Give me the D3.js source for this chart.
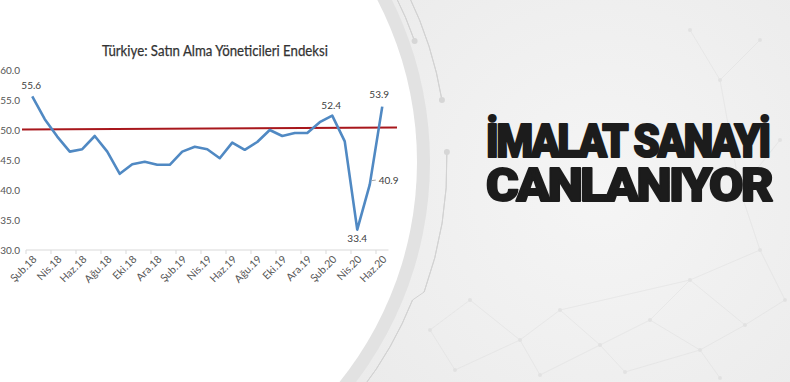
<!DOCTYPE html>
<html>
<head>
<meta charset="utf-8">
<script src="https://cdn.jsdelivr.net/npm/d3@7"></script>
<style>
  html, body { margin: 0; padding: 0; background: #fff; }
  svg { display: block; }
</style>
</head>
<body>
<div id="chart"></div>
<script>
var width = 790
var height = 382

// data
const months = ["Şub.18","Mar.18","Nis.18","May.18","Haz.18","Tem.18","Ağu.18","Eyl.18","Eki.18","Kas.18","Ara.18",
    "Oca.19","Şub.19","Mar.19","Nis.19","May.19","Haz.19","Tem.19","Ağu.19","Eyl.19","Eki.19","Kas.19","Ara.19",
    "Oca.20","Şub.20","Mar.20","Nis.20","May.20","Haz.20"];
const pmi = [55.6,51.8,48.9,46.4,46.8,49.0,46.4,42.7,44.3,44.7,44.2,
    44.2,46.4,47.2,46.8,45.3,47.9,46.7,48.0,50.0,49.0,49.5,49.5,
    51.3,52.4,48.1,33.4,40.9,53.9];
const threshold = 50;
const yTicks = [30, 35, 40, 45, 50, 55, 60];
const labelled = ["Şub.18", "Şub.20", "Nis.20", "May.20", "Haz.20"];
const title = "Türkiye: Satın Alma Yöneticileri Endeksi";
const headline = ["İMALAT SANAYİ", "CANLANIYOR"];

var svg = d3.select("#chart")
    .append("svg")
    .attr("width", width)
    .attr("height", height)

var defs = svg.append("defs")
var grad = defs.append("radialGradient")
    .attr("id", "bg")
    .attr("gradientUnits", "userSpaceOnUse")
    .attr("cx", 600).attr("cy", 190).attr("r", 430)
grad.append("stop").attr("offset", "0%").attr("stop-color", "#f5f5f5")
grad.append("stop").attr("offset", "100%").attr("stop-color", "#e7e7e7")

svg.append("rect")
    .attr("width", width).attr("height", height)
    .attr("fill", "url(#bg)")

// faint network decoration on the grey side
var net = svg.append("g")
    .attr("stroke", "#dadada")
    .attr("stroke-width", 0.7)
    .attr("fill", "#d8d8d8")
    .attr("opacity", 0.55)
var nodes = [[430,330],[470,300],[520,340],[560,310],[600,345],[650,320],[700,350],[745,325],[785,300],
    [455,370],[540,375],[625,372],[720,378],[690,280],[760,250],[740,190],[780,140],[720,80],[760,40],[690,30]]
var links = [[0,1],[1,2],[2,3],[3,4],[4,5],[5,6],[6,7],[7,8],[0,9],[9,2],[2,10],[10,4],[4,11],[11,6],[6,12],
    [5,13],[13,7],[13,14],[14,8],[14,15],[15,16],[15,17],[17,18],[17,19],[3,13]]
net.selectAll("line")
    .data(links)
    .enter()
    .append("line")
        .attr("x1", d => nodes[d[0]][0]).attr("y1", d => nodes[d[0]][1])
        .attr("x2", d => nodes[d[1]][0]).attr("y2", d => nodes[d[1]][1])
net.selectAll("circle")
    .data(nodes)
    .enter()
    .append("circle")
        .attr("cx", d => d[0]).attr("cy", d => d[1])
        .attr("r", 2)
        .attr("stroke", "none")

// white disc with grey ring
var cx = 66, cy = 162, R = 351
var ring = svg.append("g").attr("transform", "translate(" + cx + "," + cy + ")")

// angle (d3.arc convention) where a circle of radius r crosses the line y
const angleAtY = (r, yy) => {
    var dy = yy - cy
    var dx = Math.sqrt(Math.max(0, r * r - dy * dy))
    return Math.atan2(dx, -dy)
}

ring.append("circle")
    .attr("r", R + 13)
    .attr("fill", "#e2e2e2")
ring.append("circle")
    .attr("r", R)
    .attr("fill", "#ffffff")

var thin = [
    { r: 369, y0: -5, y1: 41, dot: "end" },
    { r: 381, y0: -5, y1: 100, dot: "end" },
    { r: 381, y0: 152, y1: 292, dot: "start" },
    { r: 373, y0: 300, y1: 390, dot: "none" }
]
thin.forEach(t => {
    var a0 = angleAtY(t.r, t.y0), a1 = angleAtY(t.r, t.y1)
    ring.append("path")
        .attr("d", d3.arc().innerRadius(t.r).outerRadius(t.r).startAngle(Math.min(a0, a1)).endAngle(Math.max(a0, a1))())
        .attr("fill", "none")
        .attr("stroke", "#d2d2d2")
        .attr("stroke-width", 1)
    if (t.dot != "none") {
        var a = t.dot == "end" ? a1 : a0
        ring.append("circle")
            .attr("cx", t.r * Math.sin(a))
            .attr("cy", -t.r * Math.cos(a))
            .attr("r", 3)
            .attr("fill", "#d6d6d6")
    }
})
// small bracket joining the lower arcs
var b0 = angleAtY(381, 292), b1 = angleAtY(373, 300)
ring.append("path")
    .attr("d", "M" + (381 * Math.sin(b0)) + "," + (-381 * Math.cos(b0)) + "L" + (373 * Math.sin(b1)) + "," + (-373 * Math.cos(b1)))
    .attr("stroke", "#d2d2d2")
    .attr("fill", "none")

// chart
var x = d3.scaleBand()
    .domain(months)
    .range([26, 388.5])
var y = d3.scaleLinear()
    .domain([30, 60])
    .range([250, 70])

var chart = svg.append("g")
    .style("font-family", "Lato, 'Open Sans', sans-serif")

chart.append("text")
    .attr("x", 215)
    .attr("y", 56)
    .attr("text-anchor", "middle")
    .style("font-size", "14.5px")
    .style("fill", "#333333")
    .style("stroke", "#333333")
    .style("stroke-width", 0.25)
    .text(title)
    .each(function() {
        // squeeze to the narrow width of the original font
        var w = this.getComputedTextLength()
        if (w > 226) d3.select(this).attr("textLength", 226).attr("lengthAdjust", "spacingAndGlyphs")
    })

// y axis labels
var yAxis = chart.append("g")
    .attr("transform", "translate(20,0)")
    .call(d3.axisLeft(y).tickValues(yTicks).tickFormat(d3.format(".1f")).tickSize(0).tickPadding(0))
yAxis.select(".domain").remove()
yAxis.selectAll("text")
    .style("font-family", "Lato, sans-serif")
    .style("font-size", "10px")
    .style("fill", "#555555")

// x axis line, ticks at category boundaries every two months
var xg = chart.append("g")
xg.append("line")
    .attr("x1", x.range()[0]).attr("x2", x.range()[1])
    .attr("y1", y(30)).attr("y2", y(30))
    .attr("stroke", "#d9d9d9")
var every2 = months.filter((m, i) => i % 2 == 0)
xg.selectAll(".tick")
    .data(every2)
    .enter()
    .append("line")
        .attr("x1", d => x(d)).attr("x2", d => x(d))
        .attr("y1", y(30)).attr("y2", y(30) + 4)
        .attr("stroke", "#d9d9d9")
xg.selectAll(".xlab")
    .data(every2)
    .enter()
    .append("text")
        .attr("transform", d => "translate(" + (x(d) + x.bandwidth() / 2 + 5) + "," + (y(30) + 10) + ") rotate(-45)")
        .attr("text-anchor", "end")
        .style("font-size", "10.5px")
        .style("fill", "#555555")
        .text(d => d)

// threshold line
chart.append("line")
    .attr("x1", 22).attr("x2", 397)
    .attr("y1", y(threshold) - 0.5).attr("y2", y(threshold) - 2.5)
    .attr("stroke", "#a8171c")
    .attr("stroke-width", 2)

// PMI line
var cxp = (d, i) => x(months[i]) + x.bandwidth() / 2
chart.append("path")
    .datum(pmi)
    .attr("d", d3.line().x(cxp).y(d => y(d)))
    .attr("fill", "none")
    .attr("stroke", "#5089c3")
    .attr("stroke-width", 2.6)
    .attr("stroke-linejoin", "round")

// data labels
labelled.forEach(m => {
    var i = months.indexOf(m)
    var v = pmi[i]
    var px = cxp(v, i), py = y(v)
    var prev = i > 0 ? pmi[i - 1] : v, next = i < pmi.length - 1 ? pmi[i + 1] : -Infinity
    var lx = px, ly = py - 7, anchor = "middle"
    if (v < prev && v < next) { ly = py + 12 }                       // trough
    else if (v > prev && v < next) { lx = px + 9; ly = py - 1; anchor = "start"   // rising mid-point
        chart.append("line")
            .attr("x1", px + 2).attr("x2", px + 6)
            .attr("y1", py - 4).attr("y2", py - 4.5)
            .attr("stroke", "#a6a6a6")
    }
    else if (i == pmi.length - 1) { lx = px - 3; ly = py - 9 }
    else { lx = px - 1 }
    chart.append("text")
        .attr("x", lx).attr("y", ly)
        .attr("text-anchor", anchor)
        .style("font-size", "10px")
        .style("fill", "#404040")
        .text(v.toFixed(1))
})

// headline: tight, heavy lettering fitted to its width, then stretched to the cap height
var head = svg.append("g")
    .style("font-family", "Roboto, 'Open Sans', sans-serif")
    .style("font-weight", 900)
    .style("fill", "#1c1c1c")
    .style("stroke", "#1c1c1c")
    .style("stroke-width", 2)
    .style("stroke-linejoin", "round")
var targetW = [283, 285]
head.selectAll("text")
    .data(headline)
    .enter()
    .append("text")
        .attr("x", 0)
        .attr("y", 0)
        .style("font-size", "48px")
        .style("letter-spacing", "-2.5px")
        .text(d => d)
        .each(function(d, i) {
            var w = this.getComputedTextLength()
            var fs = 48 * targetW[i] / w
            d3.select(this).style("font-size", fs + "px")
                .style("letter-spacing", (-2.5 * fs / 48) + "px")
                .attr("transform", "translate(486," + (157 + i * 44) + ") scale(1," + (47 / fs) + ")")
        })
</script>
</body>
</html>
